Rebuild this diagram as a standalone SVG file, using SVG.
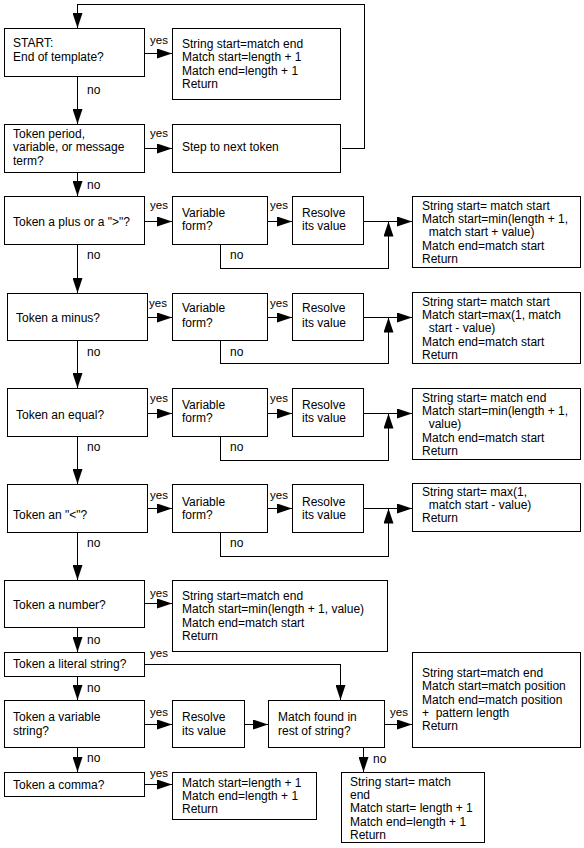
<svg xmlns="http://www.w3.org/2000/svg" width="584" height="848" viewBox="0 0 584 848">
<style>
.b{fill:#fff;stroke:#000;stroke-width:1;shape-rendering:crispEdges}
.c{fill:none;stroke:#000;stroke-width:1;shape-rendering:crispEdges}
.a{marker-end:url(#ah)}
text{font-family:"Liberation Sans",Arial,sans-serif;font-size:12px;fill:#000;white-space:pre}
.l{font-size:11.5px}
</style>
<defs>
<marker id="ah" markerUnits="userSpaceOnUse" markerWidth="15" markerHeight="10" refX="15" refY="5" orient="auto">
<path d="M0,0 L15,5 L0,10 z" fill="#000"/>
</marker>
</defs>
<rect width="584" height="848" fill="#fff"/>
<g id="connectors">
<path class="c a" d="M341.5,148.5 H364.5 V4.5 H77.5 V28"/>
<path class="c a" d="M145,53.5 H172"/>
<path class="c a" d="M77.5,77 V124"/>
<path class="c a" d="M145,148.5 H172"/>
<path class="c a" d="M77.5,172 V196"/>
<path class="c a" d="M145,221.5 H172"/>
<path class="c a" d="M268,221.5 H292"/>
<path class="c a" d="M364,221.5 H412"/>
<path class="c a" d="M220.5,244 V268.5 H388.5 V221.5"/>
<path class="c a" d="M77.5,244 V293"/>
<path class="c a" d="M148,317.5 H172"/>
<path class="c a" d="M268,317.5 H292"/>
<path class="c a" d="M364,317.5 H412"/>
<path class="c a" d="M220.5,340 V363.5 H388.5 V317.5"/>
<path class="c a" d="M77.5,340 V388"/>
<path class="c a" d="M148,413.5 H172"/>
<path class="c a" d="M268,413.5 H292"/>
<path class="c a" d="M364,413.5 H412"/>
<path class="c a" d="M220.5,437 V460.5 H388.5 V413.5"/>
<path class="c a" d="M77.5,437 V484"/>
<path class="c a" d="M148,508.5 H172"/>
<path class="c a" d="M268,508.5 H292"/>
<path class="c a" d="M364,508.5 H412"/>
<path class="c a" d="M220.5,533 V556.5 H388.5 V508.5"/>
<path class="c a" d="M77.5,533 V580"/>
<path class="c a" d="M145,603.5 H172"/>
<path class="c a" d="M77.5,628 V652"/>
<path class="c a" d="M145,664.5 H340.5 V700"/>
<path class="c a" d="M77.5,677 V700"/>
<path class="c a" d="M145,724.5 H172"/>
<path class="c a" d="M245,724.5 H268"/>
<path class="c a" d="M385,724.5 H412"/>
<path class="c a" d="M77.5,748 V772"/>
<path class="c a" d="M363.5,748 V772"/>
<path class="c a" d="M145,784.5 H172"/>
</g>
<g id="labels">
<text class="l" x="150" y="44">yes</text>
<text x="87" y="94">no</text>
<text class="l" x="150" y="137">yes</text>
<text x="87" y="189">no</text>
<text class="l" x="150" y="209">yes</text>
<text class="l" x="270" y="209">yes</text>
<text x="87" y="259">no</text>
<text x="230" y="259">no</text>
<text class="l" x="149" y="307">yes</text>
<text class="l" x="270" y="307">yes</text>
<text x="87" y="356">no</text>
<text x="230" y="356">no</text>
<text class="l" x="150" y="402">yes</text>
<text class="l" x="270" y="402">yes</text>
<text x="87" y="451">no</text>
<text x="230" y="451">no</text>
<text class="l" x="150" y="499">yes</text>
<text class="l" x="270" y="499">yes</text>
<text x="87" y="547">no</text>
<text x="230" y="547">no</text>
<text class="l" x="150" y="597">yes</text>
<text x="87" y="644">no</text>
<text class="l" x="150" y="657">yes</text>
<text x="87" y="692">no</text>
<text class="l" x="150" y="716">yes</text>
<text class="l" x="390" y="716">yes</text>
<text x="87" y="762">no</text>
<text x="373" y="763">no</text>
<text class="l" x="150" y="777">yes</text>
</g>
<g id="start">
<rect class="b" x="4.5" y="28.5" width="140" height="48"/>
<text x="13" y="47">START:</text>
<text x="13" y="61">End of template?</text>
</g>
<g id="endTemplate">
<rect class="b" x="172.5" y="28.5" width="168" height="71"/>
<text x="182" y="47.5">String start=match end</text>
<text x="182" y="61">Match start=length + 1</text>
<text x="182" y="74.5">Match end=length + 1</text>
<text x="182" y="88">Return</text>
</g>
<g id="tokenPeriod">
<rect class="b" x="4.5" y="124.5" width="140" height="48"/>
<text x="13" y="137.5">Token period,</text>
<text x="13" y="151">variable, or message</text>
<text x="13" y="164.5">term?</text>
</g>
<g id="stepNext">
<rect class="b" x="172.5" y="124.5" width="168" height="48"/>
<text x="182" y="151">Step to next token</text>
</g>
<g id="tokenPlus">
<rect class="b" x="4.5" y="196.5" width="140" height="48"/>
<text x="13" y="226">Token a plus or a "&gt;"?</text>
</g>
<g id="varForm1">
<rect class="b" x="172.5" y="196.5" width="95" height="48"/>
<text x="182" y="217">Variable</text>
<text x="182" y="230">form?</text>
</g>
<g id="resolve1">
<rect class="b" x="292.5" y="196.5" width="71" height="48"/>
<text x="302" y="217">Resolve</text>
<text x="302" y="230">its value</text>
</g>
<g id="resultPlus">
<rect class="b" x="412.5" y="196.5" width="168" height="71"/>
<text x="422" y="209.5">String start= match start</text>
<text x="422" y="223">Match start=min(length + 1,</text>
<text x="422" y="236" xml:space="preserve">  match start + value)</text>
<text x="422" y="249.5">Match end=match start</text>
<text x="422" y="263">Return</text>
</g>
<g id="tokenMinus">
<rect class="b" x="7.5" y="293.5" width="140" height="47"/>
<text x="16" y="322">Token a minus?</text>
</g>
<g id="varForm2">
<rect class="b" x="172.5" y="293.5" width="95" height="47"/>
<text x="182" y="312">Variable</text>
<text x="182" y="327">form?</text>
</g>
<g id="resolve2">
<rect class="b" x="292.5" y="293.5" width="71" height="47"/>
<text x="302" y="312">Resolve</text>
<text x="302" y="327">its value</text>
</g>
<g id="resultMinus">
<rect class="b" x="412.5" y="292.5" width="168" height="71"/>
<text x="422" y="305.5">String start= match start</text>
<text x="422" y="319">Match start=max(1, match</text>
<text x="422" y="332" xml:space="preserve">  start - value)</text>
<text x="422" y="345.5">Match end=match start</text>
<text x="422" y="359">Return</text>
</g>
<g id="tokenEqual">
<rect class="b" x="7.5" y="388.5" width="140" height="48"/>
<text x="16" y="419">Token an equal?</text>
</g>
<g id="varForm3">
<rect class="b" x="172.5" y="388.5" width="95" height="48"/>
<text x="182" y="409">Variable</text>
<text x="182" y="422">form?</text>
</g>
<g id="resolve3">
<rect class="b" x="292.5" y="388.5" width="71" height="48"/>
<text x="302" y="409">Resolve</text>
<text x="302" y="422">its value</text>
</g>
<g id="resultEqual">
<rect class="b" x="412.5" y="388.5" width="168" height="71"/>
<text x="422" y="401.5">String start= match end</text>
<text x="422" y="415">Match start=min(length + 1,</text>
<text x="422" y="428" xml:space="preserve">  value)</text>
<text x="422" y="441.5">Match end=match start</text>
<text x="422" y="455">Return</text>
</g>
<g id="tokenLess">
<rect class="b" x="7.5" y="484.5" width="140" height="48"/>
<text x="13" y="519">Token an "&lt;"?</text>
</g>
<g id="varForm4">
<rect class="b" x="172.5" y="484.5" width="95" height="48"/>
<text x="182" y="506">Variable</text>
<text x="182" y="519">form?</text>
</g>
<g id="resolve4">
<rect class="b" x="292.5" y="484.5" width="71" height="48"/>
<text x="302" y="506">Resolve</text>
<text x="302" y="519">its value</text>
</g>
<g id="resultLess">
<rect class="b" x="412.5" y="483.5" width="168" height="48"/>
<text x="422" y="496">String start= max(1,</text>
<text x="422" y="509" xml:space="preserve">  match start - value)</text>
<text x="422" y="522">Return</text>
</g>
<g id="tokenNumber">
<rect class="b" x="4.5" y="580.5" width="140" height="47"/>
<text x="13" y="609">Token a number?</text>
</g>
<g id="resultNumber">
<rect class="b" x="172.5" y="580.5" width="215" height="71"/>
<text x="182" y="600">String start=match end</text>
<text x="182" y="613">Match start=min(length + 1, value)</text>
<text x="182" y="627">Match end=match start</text>
<text x="182" y="640">Return</text>
</g>
<g id="tokenLiteral">
<rect class="b" x="4.5" y="652.5" width="140" height="24"/>
<text x="13" y="668">Token a literal string?</text>
</g>
<g id="tokenVarString">
<rect class="b" x="4.5" y="700.5" width="140" height="47"/>
<text x="13" y="721">Token a variable</text>
<text x="13" y="735">string?</text>
</g>
<g id="resolve5">
<rect class="b" x="172.5" y="700.5" width="72" height="47"/>
<text x="182" y="721">Resolve</text>
<text x="182" y="735">its value</text>
</g>
<g id="matchFound">
<rect class="b" x="268.5" y="700.5" width="116" height="47"/>
<text x="278" y="721">Match found in</text>
<text x="278" y="735">rest of string?</text>
</g>
<g id="resultMatch">
<rect class="b" x="412.5" y="652.5" width="168" height="95"/>
<text x="422" y="677">String start=match end</text>
<text x="422" y="690">Match start=match position</text>
<text x="422" y="704">Match end=match position</text>
<text x="422" y="717" xml:space="preserve">+  pattern length</text>
<text x="422" y="730">Return</text>
</g>
<g id="tokenComma">
<rect class="b" x="4.5" y="772.5" width="140" height="24"/>
<text x="13" y="789">Token a comma?</text>
</g>
<g id="resultComma">
<rect class="b" x="172.5" y="772.5" width="144" height="47"/>
<text x="182" y="787">Match start=length + 1</text>
<text x="182" y="800">Match end=length + 1</text>
<text x="182" y="813">Return</text>
</g>
<g id="resultNoMatch">
<rect class="b" x="341.5" y="772.5" width="143" height="70"/>
<text x="350" y="786">String start= match</text>
<text x="350" y="799">end</text>
<text x="350" y="812">Match start= length + 1</text>
<text x="350" y="826">Match end=length + 1</text>
<text x="350" y="839">Return</text>
</g>
</svg>
